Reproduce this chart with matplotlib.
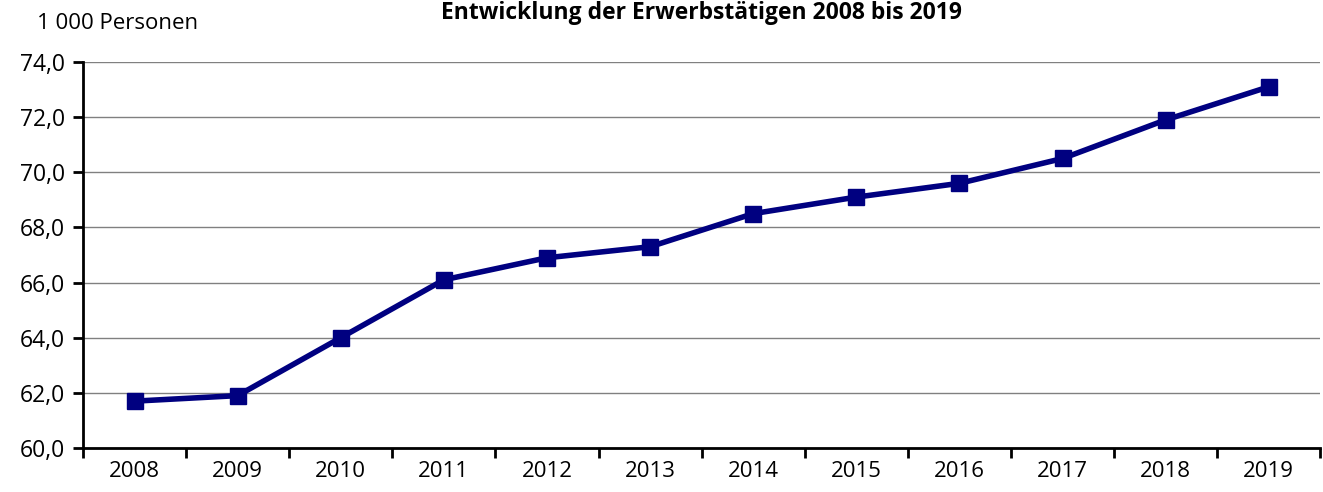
import matplotlib.pyplot as plt
import numpy as np

years = ['2008', '2009', '2010', '2011', '2012', '2013',
         '2014', '2015', '2016', '2017', '2018', '2019']
erwerbstaetige = [61.7, 61.9, 64.0, 66.1, 66.9, 67.3,
                  68.5, 69.1, 69.6, 70.5, 71.9, 73.1]
yticks = [60, 62, 64, 66, 68, 70, 72, 74]

plt.rcParams['font.family'] = ['Open Sans', 'DejaVu Sans']

fig = plt.figure(figsize=(13.23, 4.92), dpi=100)
ax = fig.add_axes([0.0627, 0.0894, 0.9353, 0.7846])

x = np.arange(len(years))
ax.plot(x, erwerbstaetige, color='#000080', lw=4, marker='s',
        markersize=11.5, zorder=3)

ax.set_xlim(-0.5, len(years) - 0.5)
ax.set_ylim(60, 74)
ax.set_yticks(yticks)
ax.set_yticklabels([f'{v:.1f}'.replace('.', ',') for v in yticks], fontsize=16.5)
ax.yaxis.grid(True, color='#808080', lw=1)
ax.set_axisbelow(True)

ax.set_xticks(x)
ax.set_xticklabels(years, fontsize=16)
ax.set_xticks(np.arange(-0.5, len(years)), minor=True)
ax.tick_params(axis='x', which='major', length=0, pad=9)
ax.tick_params(axis='x', which='minor', length=7, width=2, direction='out')
ax.tick_params(axis='y', length=7, width=2, direction='out', pad=6)

for s in ['top', 'right']:
    ax.spines[s].set_visible(False)
for s in ['left', 'bottom']:
    ax.spines[s].set_linewidth(2)

fig.text(0.028, 0.93, '1 000 Personen', fontsize=16, ha='left', va='bottom')
fig.text(0.53, 0.998, 'Entwicklung der Erwerbstätigen 2008 bis 2019',
         fontsize=16.5, fontweight='bold', ha='center', va='top')

fig.savefig('out.png', dpi=100)
